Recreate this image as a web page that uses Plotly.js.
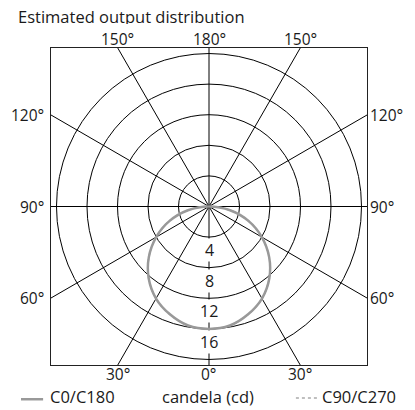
<!DOCTYPE html>
<html><head><meta charset="utf-8">
<script src="https://cdn.plot.ly/plotly-3.0.1.min.js"></script>
<style>html,body{margin:0;padding:0;background:#fff}</style>
</head><body><div id="chart" style="width:415px;height:410px"></div>
<script>
// ---- data ----
const chartTitle = 'Estimated output distribution';
const ringValues = [4, 8, 12, 16, 20];          // candela grid circles
const ringLabels = ['4', '8', '12', '16'];       // labelled circles
const spokeAngles = [0, 30, 60, 90, 120, 150, 180, 210, 240, 270, 300, 330]; // degrees
// gamma angle (deg) and candela (C0 on right, C180 on left)
const gammaDeg = [-90, -80, -70, -60, -50, -40, -30, -20, -10, 0, 10, 20, 30, 40, 50, 60, 70, 80, 90];
const candelaC0C180 = [0, 2.8, 5.5, 8.0, 10.3, 12.3, 13.9, 15.0, 15.8, 16, 15.8, 15.0, 13.9, 12.3, 10.3, 8.0, 5.5, 2.8, 0];
const candelaC90C270 = [0, 2.8, 5.5, 8.0, 10.3, 12.3, 13.9, 15.0, 15.8, 16, 15.8, 15.0, 13.9, 12.3, 10.3, 8.0, 5.5, 2.8, 0];
const legendNames = ['C0/C180', 'candela (cd)', 'C90/C270'];

// ---- geometry helpers ----
const rad = d => d * Math.PI / 180;
const maxR = ringValues[ringValues.length - 1];
const R = maxR * 158 / 152.5; // half size of square frame in data units
const toX = (r, a) => r * Math.sin(rad(a));
const toY = (r, a) => -r * Math.cos(rad(a));

const FONT = 'Open Sans, Noto Sans, sans-serif';
const TXT = '#1a1a1a';
const traces = [];

// spokes (clipped by plot area)
spokeAngles.forEach(a => {
  traces.push({x: [0, toX(3 * maxR, a)], y: [0, toY(3 * maxR, a)], mode: 'lines',
    line: {color: '#000', width: 1}, hoverinfo: 'skip', showlegend: false});
});

// curves
traces.push({x: gammaDeg.map((g, i) => toX(candelaC90C270[i], g)), y: gammaDeg.map((g, i) => toY(candelaC90C270[i], g)),
  mode: 'lines', line: {color: '#999', width: 1.5, dash: 'dot', shape: 'spline'}, name: legendNames[2], showlegend: false});
traces.push({x: gammaDeg.map((g, i) => toX(candelaC0C180[i], g)), y: gammaDeg.map((g, i) => toY(candelaC0C180[i], g)),
  mode: 'lines', line: {color: '#999', width: 2.5, shape: 'spline'}, name: legendNames[0], showlegend: false});

const shapes = ringValues.map(r => ({type: 'circle', xref: 'x', yref: 'y', x0: -r, x1: r, y0: -r, y1: r,
  line: {color: '#000', width: 1}, layer: 'below'}));

// legend samples
shapes.push({type: 'line', xref: 'paper', yref: 'paper', x0: -0.095, x1: -0.025, y0: -0.108, y1: -0.108, line: {color: '#999', width: 2.5}});
shapes.push({type: 'line', xref: 'paper', yref: 'paper', x0: 0.775, x1: 0.85, y0: -0.104, y1: -0.104, line: {color: '#aaa', width: 1.5, dash: 'dot'}});

const annotations = [];
annotations.push({xref: 'paper', yref: 'paper', x: -0.11, y: 1.1, text: chartTitle, showarrow: false,
  xanchor: 'left', yanchor: 'middle', height: 16, valign: 'middle', font: {size: 16.5, color: TXT, family: FONT}});

// radial labels
ringLabels.forEach((t, i) => {
  annotations.push({x: 0, y: -ringValues[i], text: t, showarrow: false, xanchor: 'center', yanchor: 'top',
    bgcolor: '#fff', borderpad: 0, yshift: -1, font: {size: 16, color: TXT, family: FONT}});
});

// angle labels where spokes hit the frame
spokeAngles.forEach(a => {
  const s = Math.sin(rad(a)), c = -Math.cos(rad(a));
  const t = R / Math.max(Math.abs(s), Math.abs(c));
  const x = t * s, y = t * c;
  const txt = (a <= 180 ? a : 360 - a) + '°';
  const ann = {x: x, y: y, text: txt, showarrow: false, font: {size: 15.5, color: TXT, family: FONT}};
  if (Math.abs(Math.abs(s) - Math.abs(c)) < 1e-6) return;
  if (Math.abs(c) > Math.abs(s)) {
    ann.xanchor = 'center';
    ann.height = 16; ann.valign = 'middle';
    if (c > 0) { ann.yanchor = 'bottom'; ann.yshift = -1; } else { ann.yanchor = 'top'; ann.yshift = 1; }
  } else {
    ann.yanchor = 'middle';
    if (s > 0) { ann.xanchor = 'left'; ann.xshift = 1; } else { ann.xanchor = 'right'; ann.xshift = -5; }
  }
  annotations.push(ann);
});

// legend texts
annotations.push({xref: 'paper', yref: 'paper', x: -0.008, y: -0.1, text: legendNames[0], showarrow: false,
  xanchor: 'left', yanchor: 'middle', font: {size: 16.5, color: TXT, family: FONT}});
annotations.push({xref: 'paper', yref: 'paper', x: 0.497, y: -0.1, text: legendNames[1], showarrow: false,
  xanchor: 'center', yanchor: 'middle', font: {size: 16.5, color: TXT, family: FONT}});
annotations.push({xref: 'paper', yref: 'paper', x: 0.85, y: -0.1, text: legendNames[2], showarrow: false,
  xanchor: 'left', yanchor: 'middle', font: {size: 16.5, color: TXT, family: FONT}});

const axis = {range: [-R, R], showgrid: false, zeroline: false, showticklabels: false, ticks: '',
  showline: true, mirror: true, linecolor: '#222', linewidth: 1, fixedrange: true};

Plotly.newPlot('chart', traces, {
  width: 415, height: 410,
  margin: {l: 51, r: 48, t: 48, b: 45},
  paper_bgcolor: '#fff', plot_bgcolor: '#fff',
  xaxis: Object.assign({}, axis),
  yaxis: Object.assign({}, axis),
  shapes: shapes, annotations: annotations, showlegend: false
}, {staticPlot: true});
</script></body></html>
